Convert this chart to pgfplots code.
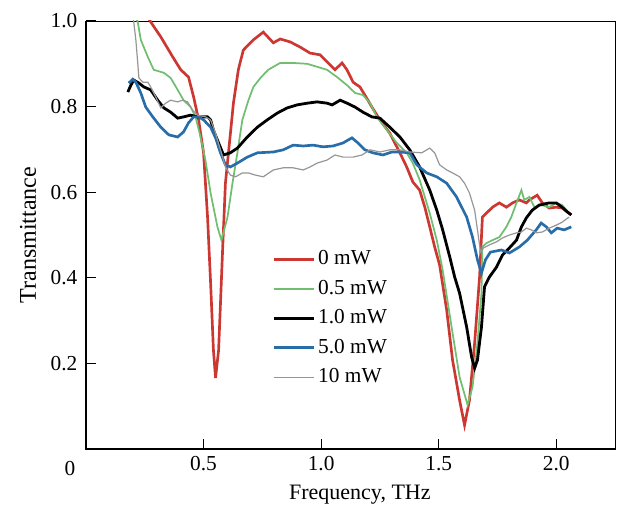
\documentclass[border=0pt]{standalone}
\usepackage{pgfplots}
\pgfplotsset{compat=1.18}
\usepackage{fontspec}
\setmainfont{Liberation Serif}
\definecolor{cRed}{RGB}{205,55,50}
\definecolor{cGreen}{RGB}{112,190,112}
\definecolor{cBlue}{RGB}{40,108,168}
\definecolor{cGray}{RGB}{150,150,150}
\newcommand{\lfont}{\fontsize{16}{18}\selectfont}
\begin{document}
\begin{tikzpicture}
\begin{axis}[
  name=ax,
  scale only axis,
  width=396.75pt, height=321pt,
  xmin=0, xmax=2.25, ymin=0, ymax=1.0,
  xtick={0.5,1.0,1.5,2.0},
  xticklabels={0.5,1.0,1.5,2.0},
  ytick={0.2,0.4,0.6,0.8,1.0},
  yticklabels={0.2,0.4,0.6,0.8,1.0},
  tick pos=left,
  tick align=inside,
  major tick length=7.5pt,
  tick style={black, line width=0.9pt},
  axis line style={line width=0.6pt},
  /pgf/number format/assume math mode=true,
  tick label style={font=\lfont},
  xticklabel style={yshift=-2pt},
  yticklabel style={xshift=-3pt},
  xlabel={Frequency, THz},
  ylabel={Transmittance},
  every axis x label/.style={at={(rel axis cs:0.5,0)}, anchor=center, xshift=7pt, yshift=-34pt, font=\fontsize{16.5}{18}\selectfont},
  every axis y label/.style={at={(rel axis cs:0,0.5)}, anchor=center, xshift=-43.5pt, rotate=90, font=\fontsize{18}{20}\selectfont},
  legend style={at={(rel axis cs:0.345,0.478)}, anchor=north west, draw=none, fill=none,
    font=\lfont, row sep=4.1pt, nodes={text height=11pt, text depth=3pt, inner ysep=2pt}},
  legend cell align=left,
  legend image code/.code={\draw[#1] (0pt,0pt) -- (30pt,0pt);},
  clip=true,
]
\addplot[cRed, line width=2pt] coordinates {
(0.233,1.037)(0.275,0.998)(0.318,0.963)(0.369,0.916)(0.403,0.886)(0.436,0.869)(0.458,0.822)
(0.479,0.769)(0.500,0.692)(0.517,0.542)(0.530,0.388)(0.542,0.231)(0.551,0.166)(0.564,0.231)
(0.581,0.465)(0.593,0.621)(0.606,0.692)(0.627,0.808)(0.648,0.886)(0.669,0.932)(0.712,0.956)
(0.754,0.974)(0.797,0.949)(0.826,0.958)(0.869,0.951)(0.911,0.939)(0.953,0.925)(0.996,0.921)
(1.030,0.902)(1.059,0.886)(1.089,0.902)(1.110,0.886)(1.136,0.857)(1.165,0.846)(1.186,0.827)
(1.216,0.799)(1.250,0.769)(1.292,0.738)(1.335,0.692)(1.364,0.659)(1.390,0.624)(1.419,0.605)
(1.441,0.565)(1.462,0.519)(1.483,0.472)(1.504,0.430)(1.534,0.325)(1.559,0.208)(1.589,0.114)
(1.610,0.056)(1.631,0.114)(1.653,0.248)(1.674,0.402)(1.686,0.542)(1.703,0.551)(1.729,0.565)
(1.758,0.575)(1.788,0.565)(1.814,0.575)(1.843,0.582)(1.873,0.575)(1.886,0.582)(1.919,0.593)
(1.941,0.575)(1.970,0.563)(2.000,0.565)(2.025,0.563)(2.064,0.547)
};
\addlegendentry{0 mW}
\addplot[cGreen, line width=1.3pt] coordinates {
(0.191,1.037)(0.220,0.998)(0.233,0.956)(0.263,0.916)(0.288,0.886)(0.331,0.879)(0.360,0.867)
(0.390,0.839)(0.415,0.815)(0.445,0.799)(0.466,0.776)(0.487,0.729)(0.508,0.675)(0.530,0.598)
(0.559,0.519)(0.576,0.488)(0.602,0.542)(0.623,0.621)(0.644,0.692)(0.665,0.769)(0.691,0.815)
(0.712,0.846)(0.742,0.867)(0.775,0.886)(0.826,0.902)(0.881,0.902)(0.941,0.900)(0.983,0.893)
(1.025,0.886)(1.068,0.869)(1.110,0.850)(1.144,0.832)(1.178,0.827)(1.208,0.808)(1.237,0.776)
(1.280,0.745)(1.322,0.715)(1.364,0.692)(1.390,0.668)(1.419,0.629)(1.462,0.551)(1.492,0.488)
(1.517,0.418)(1.555,0.285)(1.589,0.168)(1.623,0.103)(1.644,0.145)(1.665,0.248)(1.682,0.364)
(1.686,0.472)(1.703,0.481)(1.729,0.488)(1.758,0.495)(1.788,0.519)(1.809,0.542)(1.831,0.575)
(1.852,0.605)(1.864,0.582)(1.886,0.589)(1.907,0.565)(1.936,0.570)(1.970,0.565)(2.000,0.575)
(2.025,0.570)(2.055,0.551)
};
\addlegendentry{0.5 mW}
\addplot[black, line width=2.1pt] coordinates {
(0.178,0.834)(0.191,0.850)(0.203,0.862)(0.225,0.855)(0.246,0.846)(0.275,0.839)(0.305,0.815)
(0.331,0.797)(0.360,0.787)(0.390,0.773)(0.415,0.776)(0.445,0.780)(0.475,0.776)(0.517,0.776)
(0.530,0.769)(0.542,0.745)(0.564,0.715)(0.585,0.687)(0.614,0.692)(0.644,0.703)(0.686,0.729)
(0.729,0.752)(0.771,0.769)(0.814,0.785)(0.856,0.797)(0.898,0.804)(0.941,0.808)(0.983,0.811)
(1.025,0.808)(1.047,0.804)(1.081,0.815)(1.110,0.808)(1.144,0.799)(1.178,0.787)(1.216,0.776)
(1.250,0.773)(1.292,0.752)(1.335,0.729)(1.377,0.699)(1.419,0.659)(1.462,0.605)(1.492,0.558)
(1.517,0.512)(1.547,0.449)(1.568,0.402)(1.589,0.364)(1.619,0.285)(1.640,0.215)(1.653,0.189)
(1.665,0.208)(1.682,0.285)(1.695,0.379)(1.716,0.402)(1.746,0.425)(1.771,0.453)(1.801,0.470)
(1.831,0.488)(1.852,0.519)(1.873,0.540)(1.898,0.558)(1.928,0.570)(1.970,0.575)(2.000,0.575)
(2.025,0.565)(2.047,0.554)(2.064,0.547)
};
\addlegendentry{1.0 mW}
\addplot[cBlue, line width=2pt] coordinates {
(0.182,0.855)(0.199,0.864)(0.212,0.857)(0.233,0.832)(0.254,0.799)(0.284,0.776)(0.318,0.752)
(0.352,0.734)(0.390,0.729)(0.415,0.741)(0.436,0.762)(0.458,0.776)(0.479,0.776)(0.500,0.769)
(0.530,0.752)(0.551,0.727)(0.572,0.692)(0.593,0.664)(0.614,0.659)(0.644,0.668)(0.686,0.682)
(0.729,0.692)(0.797,0.694)(0.839,0.699)(0.881,0.710)(0.924,0.708)(0.966,0.710)(1.008,0.706)
(1.051,0.708)(1.093,0.715)(1.131,0.727)(1.157,0.715)(1.186,0.699)(1.220,0.692)(1.263,0.687)
(1.301,0.694)(1.335,0.694)(1.377,0.692)(1.407,0.664)(1.449,0.645)(1.492,0.636)(1.534,0.621)
(1.576,0.589)(1.619,0.542)(1.644,0.495)(1.665,0.442)(1.682,0.411)(1.699,0.442)(1.720,0.460)
(1.767,0.465)(1.801,0.458)(1.843,0.472)(1.877,0.488)(1.915,0.512)(1.936,0.528)(1.958,0.519)
(1.979,0.505)(2.004,0.516)(2.034,0.512)(2.064,0.519)
};
\addlegendentry{5.0 mW}
\addplot[cGray, line width=0.9pt] coordinates {
(0.195,1.037)(0.203,0.998)(0.212,0.956)(0.220,0.902)(0.225,0.867)(0.242,0.857)(0.263,0.857)
(0.275,0.846)(0.297,0.822)(0.318,0.797)(0.339,0.808)(0.360,0.815)(0.390,0.811)(0.411,0.815)
(0.432,0.811)(0.453,0.792)(0.475,0.780)(0.508,0.776)(0.530,0.769)(0.551,0.738)(0.572,0.699)
(0.593,0.659)(0.614,0.640)(0.636,0.636)(0.665,0.645)(0.691,0.645)(0.720,0.640)(0.754,0.636)
(0.797,0.652)(0.839,0.657)(0.881,0.657)(0.924,0.652)(0.953,0.659)(0.983,0.668)(1.025,0.675)
(1.059,0.687)(1.093,0.682)(1.136,0.682)(1.174,0.687)(1.208,0.699)(1.250,0.694)(1.292,0.699)
(1.335,0.699)(1.377,0.694)(1.428,0.692)(1.462,0.703)(1.483,0.692)(1.504,0.664)(1.534,0.652)
(1.559,0.645)(1.589,0.636)(1.610,0.621)(1.631,0.598)(1.653,0.558)(1.665,0.512)(1.678,0.460)
(1.691,0.470)(1.716,0.477)(1.746,0.484)(1.771,0.493)(1.801,0.500)(1.831,0.505)(1.852,0.507)
(1.873,0.516)(1.894,0.512)(1.915,0.505)(1.941,0.507)(1.970,0.516)(2.000,0.523)(2.025,0.530)
(2.055,0.542)
};
\addlegendentry{10 mW}
\end{axis}
\draw[line width=1.1pt] (ax.north west) -- (ax.south west) -- (ax.south east);
\node[font=\lfont, anchor=north] at ([xshift=-12pt,yshift=-6pt]ax.south west) {0};
\path (ax.south west) ++(-64.5pt,-46.5pt) coordinate (bl);
\path (ax.north east) ++(6pt,15.75pt) coordinate (tr);
\path (bl) rectangle (tr);
\end{tikzpicture}
\end{document}
